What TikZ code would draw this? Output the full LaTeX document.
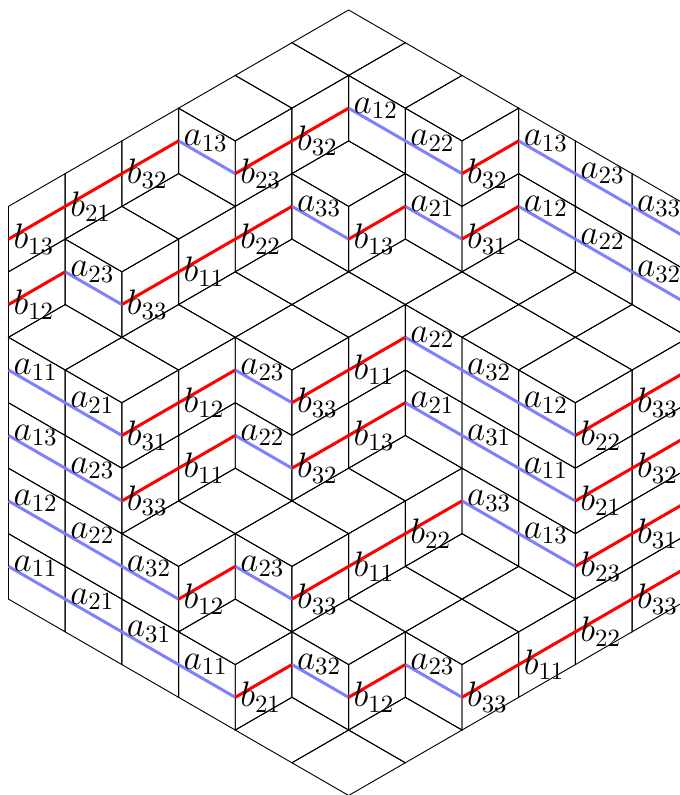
\documentclass[tikz,border=0pt]{standalone}
\usepackage{fix-cm}
\usepackage{amsmath}
\usepackage{xcolor}
\usepackage{tikz}
\definecolor{strandblue}{HTML}{8080FF}
\definecolor{strandred}{HTML}{FF0000}
\newcommand{\topfaces}{4/3,5/2,6/1,7/2,8/3,2/7,3/6,6/5,1/10,2/11,3/10,4/9,5/8,5/10,6/9,7/8,8/9,9/8,9/10,10/9,10/11,11/10,3/16,4/15,5/16,6/15,7/14,4/19,6/19,7/18,8/17,8/19,9/18,5/22,6/23,7/22}
\newcommand{\afaces}{3/4/13,6/3/12,7/4/22,9/4/13,10/5/23,11/6/33,1/8/23,5/6/33,7/6/21,9/6/12,10/7/22,11/8/32,0/11/11,1/12/21,4/11/23,7/10/22,8/11/32,9/12/12,0/13/13,1/14/23,4/13/22,7/12/21,8/13/31,9/14/11,0/15/12,1/16/22,2/17/32,4/17/23,8/15/33,9/16/13,0/17/11,1/18/21,2/19/31,3/20/11,5/20/32,7/20/23}
\newcommand{\bfaces}{0/7/13,1/6/21,2/5/32,4/5/23,5/4/32,8/5/32,0/9/12,2/9/33,3/8/11,4/7/22,6/7/13,8/7/31,2/13/31,3/12/12,5/12/33,6/11/11,10/13/22,11/12/33,2/15/33,3/14/11,5/14/32,6/13/13,10/15/21,11/14/32,3/18/12,5/18/33,6/17/11,7/16/22,10/17/23,11/16/31,4/21/21,6/21/12,8/21/33,9/20/11,10/19/22,11/18/33}
\tikzset{
  astrand/.style={strandblue,line width=1.3pt},
  bstrand/.style={strandred,line width=1.3pt},
  facelabel/.style={right,inner sep=2pt,font=\fontsize{15.4}{18}\selectfont}
}

\begin{document}
\begin{tikzpicture}[x=0.866cm,y=-0.5cm]
    \clip (-0.15,-0.3055) rectangle (11.843,23.985);
    \foreach \x/\y in \topfaces
      \draw (\x-1,\y) -- (\x,\y-1) -- (\x+1,\y) -- (\x,\y+1) -- cycle;
    \foreach \x/\y/\idx in \afaces
      \draw (\x,\y-1) -- (\x+1,\y) -- (\x+1,\y+2) -- (\x,\y+1) -- cycle;
    \foreach \x/\y/\idx in \bfaces
      \draw (\x,\y-1) -- (\x+1,\y-2) -- (\x+1,\y) -- (\x,\y+1) -- cycle;
    \foreach \x/\y/\idx in \afaces
      \draw[astrand] (\x,\y) -- (\x+1,\y+1);
    \foreach \x/\y/\idx in \bfaces
      \draw[bstrand] (\x,\y) -- (\x+1,\y-1);
    \foreach \x/\y/\idx in \afaces
      \node[facelabel] (a-\x-\y) at (\x,\y) {$a_{\idx}$};
    \foreach \x/\y/\idx in \bfaces
      \node[facelabel] (b-\x-\y) at (\x,\y) {$b_{\idx}$};
  \end{tikzpicture}
\end{document}
